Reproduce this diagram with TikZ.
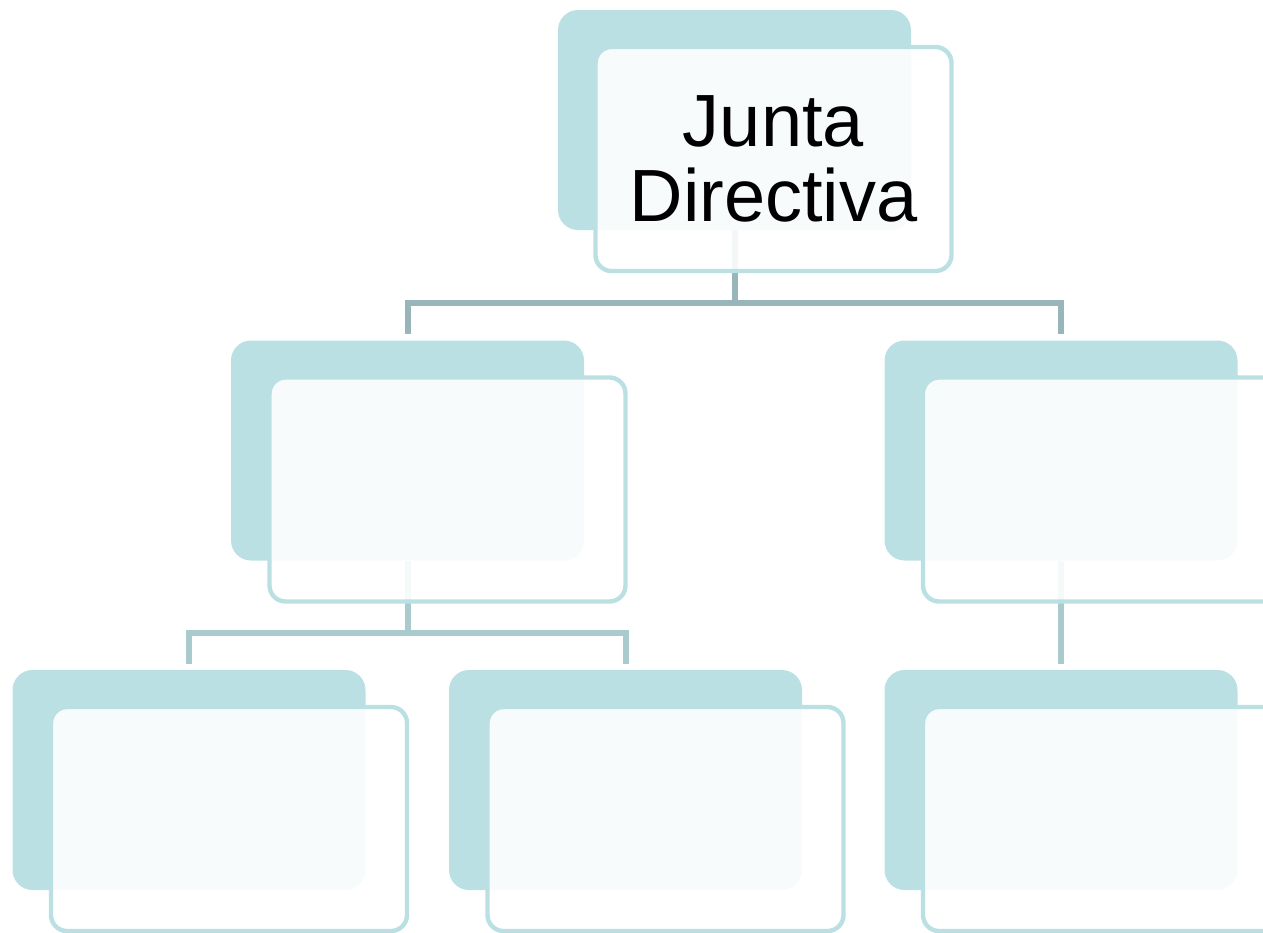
\documentclass[tikz,border=0pt]{standalone}
\usepackage{fontspec}
\setmainfont{Liberation Sans}
\definecolor{boxteal}{HTML}{BBE0E3}
\definecolor{linkdark}{HTML}{98B6BA}
\definecolor{linklight}{HTML}{AACBCE}
\begin{document}
\begin{tikzpicture}[x=0.5pt, y=-0.5pt,
	backbox/.style={fill=boxteal, rounded corners=10pt, minimum width=176.5pt, minimum height=110pt, inner sep=0pt},
	frontbox/.style={draw=boxteal, line width=2.2pt, fill=white, fill opacity=0.9, text opacity=1, rounded corners=8pt, minimum width=178pt, minimum height=112pt, inner sep=0pt, align=center, font=\fontsize{37}{37.5}\selectfont},
	link/.style={line width=3pt}]
	\useasboundingbox (0,0) rectangle (1263,932);
	\clip (0,0) rectangle (1263,932);

	% back boxes
	\node[backbox] (jd-back) at (734.5,120) {};
	\node[backbox] (ml-back) at (407.5,450.5) {};
	\node[backbox] (mr-back) at (1061,450.5) {};
	\node[backbox] (bl-back) at (189,780) {};
	\node[backbox] (bm-back) at (625.5,780) {};
	\node[backbox] (br-back) at (1061,780) {};

	% links
	\coordinate (bus1) at (0,303);
	\coordinate (bus2) at (0,633);
	\draw[link, linkdark] (jd-back.south) -- (jd-back.south |- bus1) -| ([yshift=3pt]ml-back.north);
	\draw[link, linkdark] (jd-back.south |- bus1) -| ([yshift=3pt]mr-back.north);
	\draw[link, linklight] (ml-back.south) -- (ml-back.south |- bus2) -| ([yshift=3pt]bl-back.north);
	\draw[link, linklight] (ml-back.south |- bus2) -| ([yshift=3pt]bm-back.north);
	\draw[link, linklight] (mr-back.south) -- ([yshift=3pt]br-back.north);

	% front boxes
	\node[frontbox] (jd) at ([shift={(39,39)}]jd-back.center) {Junta\\Directiva};
	\foreach \b in {ml,mr,bl,bm,br}
	{
		\node[frontbox] (\b) at ([shift={(40,39)}]\b-back.center) {};
	}
\end{tikzpicture}
\end{document}
